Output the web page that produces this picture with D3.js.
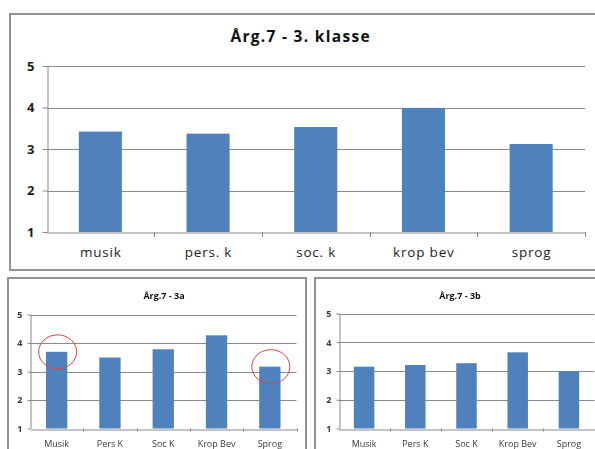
<!DOCTYPE html>
<html>
<head>
<meta charset="utf-8">
<script src="https://cdn.jsdelivr.net/npm/d3@7"></script>
<style>
  html, body { margin: 0; padding: 0; background: #fff; }
  svg { display: block; }
</style>
</head>
<body>
<svg id="chart" width="595" height="449"></svg>
<script>
// Rating scale and categories
const yTicks = [1, 2, 3, 4, 5];
const classCats = ["musik", "pers. k", "soc. k", "krop bev", "sprog"];
const classValues = [3.42, 3.37, 3.53, 3.99, 3.12];
const subCats = ["Musik", "Pers K", "Soc K", "Krop Bev", "Sprog"];
const valuesA = [3.69, 3.49, 3.78, 4.27, 3.17];
const valuesB = [3.15, 3.21, 3.27, 3.65, 3.00];
const circledA = ["Musik", "Sprog"];

const svg = d3.select("#chart");
const FONT = "'Open Sans', 'Noto Sans', sans-serif";
const BAR = "#4f81bd";
const GRID = "#8a8a8a";

svg.append("defs").append("filter").attr("id", "soft")
  .append("feGaussianBlur").attr("stdDeviation", 0.45);

function drawChart(cfg) {
  const g = svg.append("g");
  if (cfg.soft) g.attr("filter", "url(#soft)");

  // frame
  g.append("rect")
    .attr("x", cfg.box[0]).attr("y", cfg.box[1])
    .attr("width", cfg.box[2]).attr("height", cfg.box[3])
    .attr("fill", "#fff").attr("stroke", "#929292").attr("stroke-width", 2);

  const x = d3.scaleBand().domain(cfg.cats).range([cfg.plot.left, cfg.plot.right])
    .paddingInner(0.6).paddingOuter(0.3);
  const xb = d3.scaleBand().domain(cfg.cats).range([cfg.plot.left, cfg.plot.right]);
  const y = d3.scaleLinear().domain([1, 5]).range([cfg.plot.bottom, cfg.plot.top]);

  // gridlines
  g.append("g").selectAll("line").data(yTicks.slice(1)).join("line")
    .attr("x1", cfg.plot.left).attr("x2", cfg.plot.right)
    .attr("y1", d => Math.round(y(d)) + 0.5).attr("y2", d => Math.round(y(d)) + 0.5)
    .attr("stroke", GRID).attr("stroke-width", 1);

  // bars
  g.append("g").selectAll("rect").data(cfg.values).join("rect")
    .attr("x", (d, i) => x(cfg.cats[i]))
    .attr("width", x.bandwidth())
    .attr("y", d => y(d))
    .attr("height", d => y(1) - y(d))
    .attr("fill", BAR);

  // y axis
  const ya = g.append("g").attr("transform", `translate(${Math.round(cfg.plot.left) + 0.5},0)`)
    .call(d3.axisLeft(y).tickValues(yTicks).tickFormat(d3.format("d"))
      .tickSize(cfg.tick).tickSizeOuter(0).tickPadding(cfg.ypad));
  // x axis
  const xa = g.append("g").attr("transform", `translate(0,${Math.round(cfg.plot.bottom) + 0.5})`)
    .call(d3.axisBottom(xb).tickSize(0).tickSizeOuter(0).tickPadding(cfg.xpad));
  [ya, xa].forEach(a => {
    a.select(".domain").attr("stroke", GRID);
    a.selectAll(".tick line").attr("stroke", GRID);
    a.selectAll("text").attr("font-family", FONT).attr("fill", cfg.textColor);
  });
  ya.selectAll("text").attr("font-size", cfg.yFont).attr("font-weight", "bold");
  xa.selectAll("text").attr("font-size", cfg.xFont)
    .attr("letter-spacing", cfg.xSpacing || 0)
    .attr("dx", (cfg.xSpacing || 0) / 2);

  // boundary ticks below the category axis
  const bounds = cfg.cats.map(c => xb(c)).slice(1).concat([cfg.plot.right]);
  g.append("g").selectAll("line").data(bounds).join("line")
    .attr("x1", d => Math.round(d) + 0.5).attr("x2", d => Math.round(d) + 0.5)
    .attr("y1", cfg.plot.bottom).attr("y2", cfg.plot.bottom + cfg.tick)
    .attr("stroke", GRID);

  // title
  g.append("text").attr("x", cfg.titleX + (cfg.titleSpacing || 0) / 2).attr("y", cfg.titleY)
    .attr("text-anchor", "middle").attr("dominant-baseline", "central")
    .attr("font-family", FONT).attr("font-weight", "bold")
    .attr("font-size", cfg.titleFont).attr("fill", "#111")
    .attr("letter-spacing", cfg.titleSpacing || 0)
    .text(cfg.title);

  return { g, x, y };
}

drawChart({
  box: [10, 14, 588, 256],
  plot: { left: 46.5, right: 585, top: 66, bottom: 232 },
  cats: classCats, values: classValues,
  title: "Årg.7 - 3. klasse", titleX: 300, titleY: 36, titleFont: 15.5, titleSpacing: 1.3,
  yFont: 13, xFont: 13.5, xSpacing: 0.8, tick: 5, ypad: 8, xpad: 15, textColor: "#1e1e1e"
});

const a = drawChart({
  box: [8, 278, 298, 180],
  plot: { left: 30, right: 296.5, top: 314.5, bottom: 428.5 },
  cats: subCats, values: valuesA,
  title: "Årg.7 - 3a", titleX: 164, titleY: 295, titleFont: 9,
  yFont: 9, xFont: 9, tick: 3, ypad: 5, xpad: 11, textColor: "#3a3a3a", soft: true
});

// circled categories
a.g.append("g").selectAll("ellipse").data(circledA).join("ellipse")
  .attr("cx", d => a.x(d) + a.x.bandwidth() / 2 + 1)
  .attr("cy", d => a.y(valuesA[subCats.indexOf(d)]))
  .attr("rx", 19).attr("ry", 17)
  .attr("fill", "none").attr("stroke", "#e2403e").attr("stroke-width", 1);

drawChart({
  box: [315, 278, 284, 180],
  plot: { left: 338.5, right: 594.5, top: 313.5, bottom: 428.5 },
  cats: subCats, values: valuesB,
  title: "Årg.7 - 3b", titleX: 460, titleY: 295, titleFont: 9,
  yFont: 9, xFont: 9, tick: 3, ypad: 5, xpad: 11, textColor: "#3a3a3a", soft: true
});
</script>
</body>
</html>
